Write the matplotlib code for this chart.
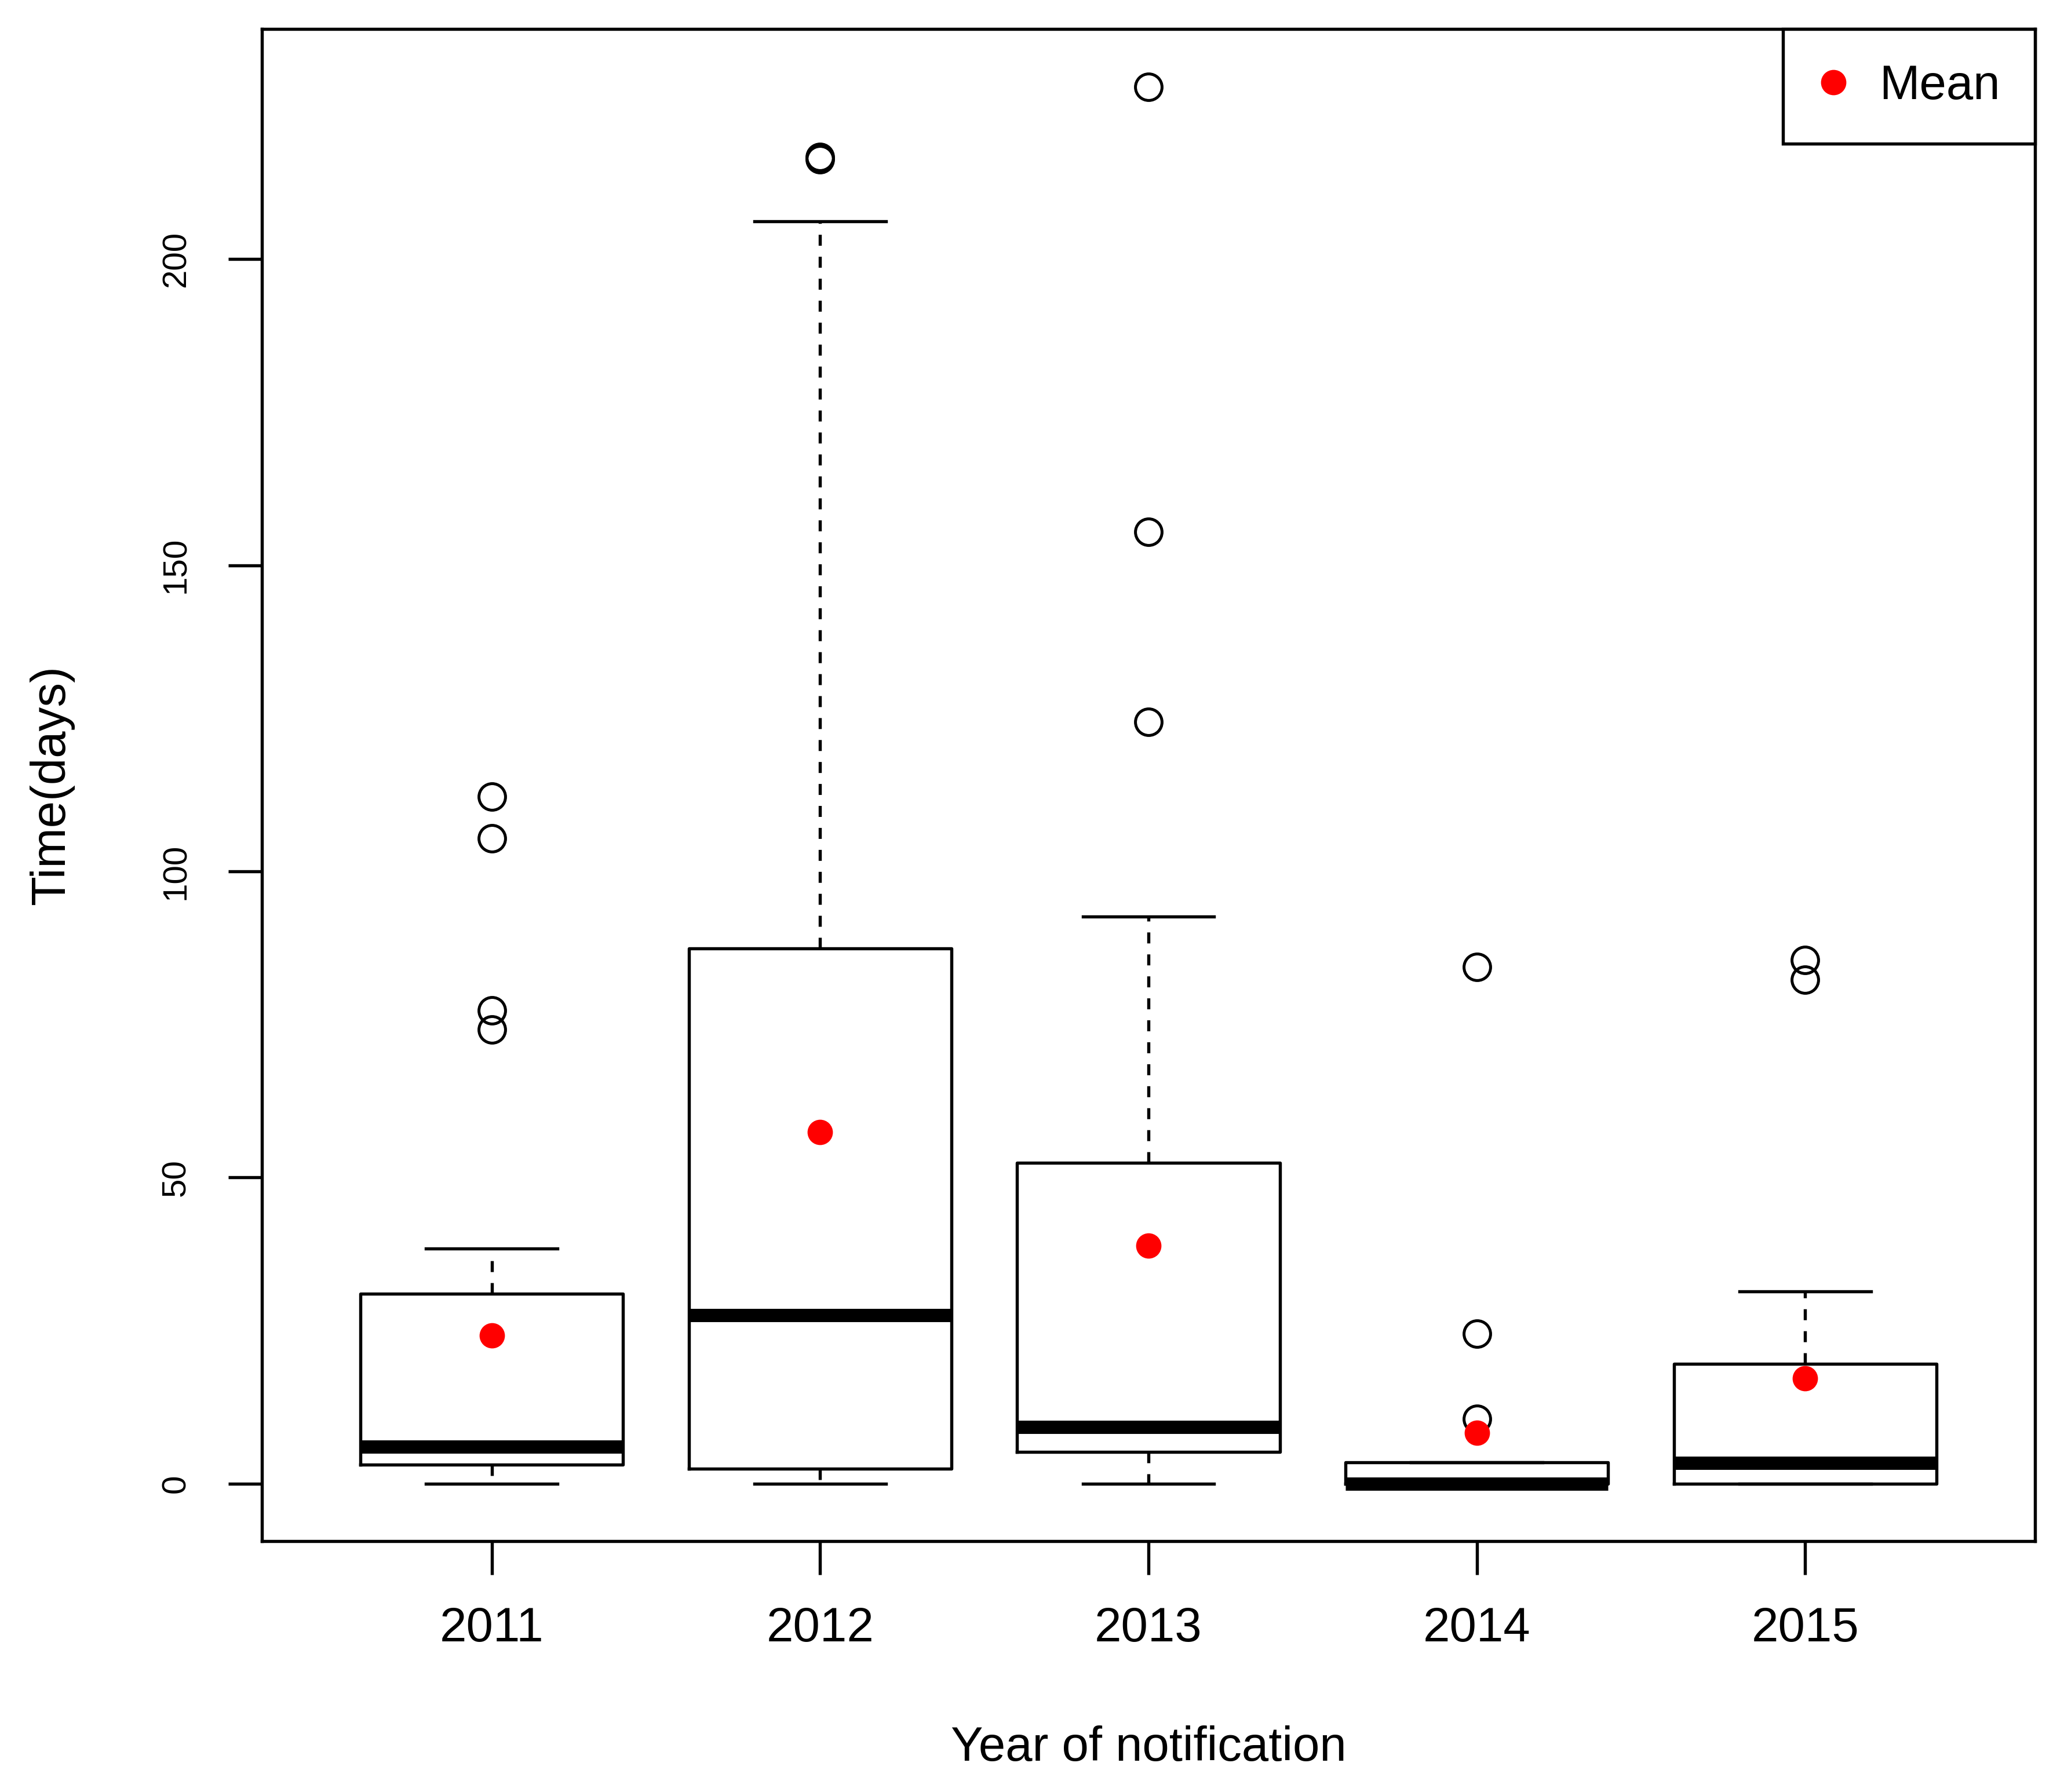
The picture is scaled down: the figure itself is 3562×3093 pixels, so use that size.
import matplotlib
matplotlib.use("Agg")
import matplotlib.pyplot as plt

plt.rcParams['font.family'] = ['Liberation Sans', 'DejaVu Sans']

years = ['2011', '2012', '2013', '2014', '2015']
q1 = [3.1, 2.4, 5.2, 0.0, 0.0]
medians = [6.0, 27.5, 9.2, 0.0, 3.4]
q3 = [31.0, 87.4, 52.4, 3.5, 19.6]
whis_low = [0.0, 0.0, 0.0, 0.0, 0.0]
whis_high = [38.4, 206.2, 92.6, 3.5, 31.4]
means = [24.2, 57.4, 38.9, 8.3, 17.2]
outliers = [
    [112.2, 105.4, 77.3, 74.2],
    [216.3, 216.7],
    [228.1, 155.5, 124.4],
    [84.4, 24.5, 10.6],
    [85.5, 82.3],
]
y_ticks = [0, 50, 100, 150, 200]

fig = plt.figure(figsize=(3562 / 300, 3093 / 300), dpi=300)
ax = fig.add_axes([452 / 3562, 1 - 2660 / 3093, 3060 / 3562, 2610 / 3093])

stats = []
for i in range(len(years)):
    stats.append(dict(label=years[i], q1=q1[i], med=medians[i], q3=q3[i],
                      whislo=whis_low[i], whishi=whis_high[i], fliers=outliers[i]))

positions = list(range(1, len(years) + 1))
lw = 1.3
ax.bxp(stats, positions=positions, widths=0.8, capwidths=0.4,
       showmeans=False,
       boxprops=dict(linewidth=lw, color='black'),
       medianprops=dict(linewidth=5.5, color='black', solid_capstyle='butt'),
       whiskerprops=dict(linewidth=lw, color='black', linestyle=(0, (3.5, 3.5))),
       capprops=dict(linewidth=lw, color='black'),
       flierprops=dict(marker='o', markerfacecolor='none', markeredgecolor='black',
                       markersize=11, markeredgewidth=1.2, linestyle='none'))

ax.plot(positions, means, linestyle='none', marker='o', color='red',
        markersize=9.5, label='Mean', zorder=5)

ax.set_xlim(0.3, 5.7)
ax.set_ylim(-9.4, 237.6)
ax.set_xticks(positions)
ax.set_xticklabels(years, fontsize=20)
ax.set_yticks(y_ticks)
ax.set_yticklabels([str(v) for v in y_ticks], fontsize=14, rotation=90, va='center')
ax.tick_params(axis='x', length=14, width=lw, pad=13)
ax.tick_params(axis='y', length=14, width=lw, pad=15)
for s in ax.spines.values():
    s.set_linewidth(lw)

ax.set_xlabel('Year of notification', fontsize=20)
ax.set_ylabel('Time(days)', fontsize=20)
ax.xaxis.set_label_coords(0.5, -0.122)
ax.yaxis.set_label_coords(-0.106, 0.5)

leg = ax.legend(loc='upper right', borderaxespad=0, fancybox=False, edgecolor='black',
                framealpha=1, fontsize=20, borderpad=0.72, handlelength=0.66,
                handletextpad=0.62)
leg.get_frame().set_linewidth(lw)

fig.savefig('out.png', dpi=300)
